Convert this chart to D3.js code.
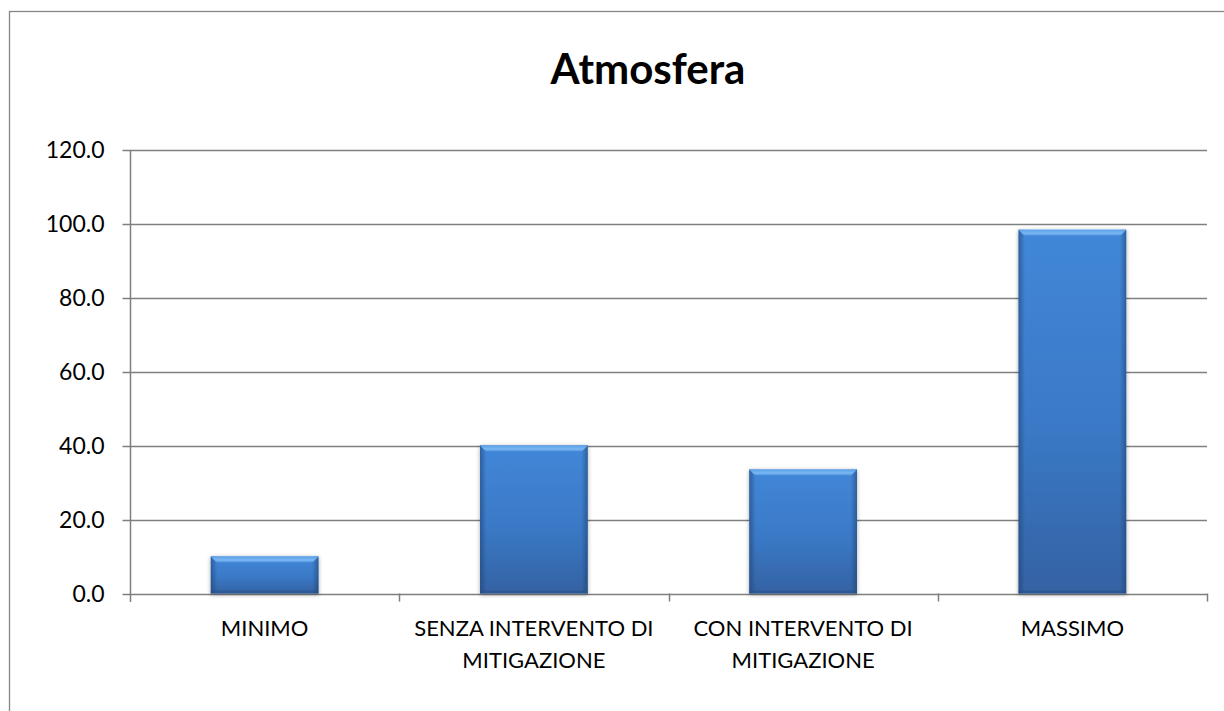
<!DOCTYPE html>
<html>
<head>
<meta charset="utf-8">
<script src="https://cdn.jsdelivr.net/npm/d3@7/dist/d3.min.js"></script>
<style>
  html, body { margin: 0; padding: 0; background: #fff; }
  svg { display: block; }
  text { font-family: Lato, "Open Sans", sans-serif; fill: #000; }
</style>
</head>
<body>
<svg id="chart" width="1224" height="711"></svg>
<script>
// Chart data
const categories = [
  ["MINIMO"],
  ["SENZA INTERVENTO DI", "MITIGAZIONE"],
  ["CON INTERVENTO DI", "MITIGAZIONE"],
  ["MASSIMO"]
];
const values = [10.0, 40.0, 33.5, 98.3];
const yTicks = [0, 20, 40, 60, 80, 100, 120];
const titleText = "Atmosfera";

const svg = d3.select("#chart");
const W = 1224, H = 711;

// Outer chart frame
svg.append("rect")
  .attr("x", 9.5).attr("y", 11.5)
  .attr("width", W + 20).attr("height", H + 20)
  .attr("fill", "#fff").attr("stroke", "#868686").attr("stroke-width", 1.3);

const plot = { left: 130, right: 1207, top: 149.5, bottom: 593.5 };

const x = d3.scaleBand()
  .domain(d3.range(categories.length))
  .range([plot.left, plot.right])
  .paddingInner(0.6).paddingOuter(0.3);

const xBounds = d3.scaleLinear()
  .domain([0, categories.length])
  .range([plot.left, plot.right]);

const y = d3.scaleLinear().domain([0, 120]).range([plot.bottom, plot.top]);

// Definitions: bar gradients and shadow
const defs = svg.append("defs");
const vg = defs.append("linearGradient").attr("id", "barV")
  .attr("x1", 0).attr("y1", 0).attr("x2", 0).attr("y2", 1);
vg.append("stop").attr("offset", "0%").attr("stop-color", "#4287d8");
vg.append("stop").attr("offset", "55%").attr("stop-color", "#3a79c6");
vg.append("stop").attr("offset", "100%").attr("stop-color", "#3462a3");

const hg = defs.append("linearGradient").attr("id", "barH")
  .attr("x1", 0).attr("y1", 0).attr("x2", 1).attr("y2", 0);
hg.append("stop").attr("offset", "0%").attr("stop-color", "#1d3f6e").attr("stop-opacity", 0.55);
hg.append("stop").attr("offset", "6%").attr("stop-color", "#1d3f6e").attr("stop-opacity", 0.0);
hg.append("stop").attr("offset", "94%").attr("stop-color", "#1d3f6e").attr("stop-opacity", 0.0);
hg.append("stop").attr("offset", "100%").attr("stop-color", "#1d3f6e").attr("stop-opacity", 0.55);

const tg = defs.append("linearGradient").attr("id", "barTop")
  .attr("x1", 0).attr("y1", 0).attr("x2", 0).attr("y2", 1);
tg.append("stop").attr("offset", "0%").attr("stop-color", "#5aa0ea");
tg.append("stop").attr("offset", "60%").attr("stop-color", "#7ab8f2");
tg.append("stop").attr("offset", "100%").attr("stop-color", "#4c8fde");

const sh = defs.append("filter").attr("id", "shadow")
  .attr("x", "-20%").attr("y", "-20%").attr("width", "140%").attr("height", "140%");
sh.append("feGaussianBlur").attr("in", "SourceAlpha").attr("stdDeviation", 2).attr("result", "b");
sh.append("feOffset").attr("in", "b").attr("dx", 0).attr("dy", 1).attr("result", "o");
sh.append("feComponentTransfer").attr("in", "o").attr("result", "s")
  .append("feFuncA").attr("type", "linear").attr("slope", 0.35);
const mg = sh.append("feMerge");
mg.append("feMergeNode").attr("in", "s");
mg.append("feMergeNode").attr("in", "SourceGraphic");

// Horizontal gridlines
svg.append("g").selectAll("line").data(yTicks).join("line")
  .attr("x1", plot.left).attr("x2", plot.right)
  .attr("y1", d => Math.round(y(d)) + 0.5).attr("y2", d => Math.round(y(d)) + 0.5)
  .attr("stroke", "#7f7f7f").attr("stroke-width", 1.5);

// Y axis line and ticks
const yAxis = d3.axisLeft(y).tickValues(yTicks).tickSize(8).tickPadding(18)
  .tickFormat(d3.format(".1f"));
const gy = svg.append("g").attr("transform", `translate(${plot.left + 0.5},0.5)`).call(yAxis);
gy.select(".domain").attr("d", `M0,${plot.top}V${plot.bottom + 8}`).attr("stroke", "#7f7f7f").attr("stroke-width", 1.5);
gy.selectAll(".tick line").attr("stroke", "#7f7f7f").attr("stroke-width", 1.5);
gy.selectAll(".tick text").attr("font-size", 23).attr("font-family", "Lato, sans-serif").attr("fill", "#000");

// Category boundary ticks
svg.append("g").selectAll("line").data(d3.range(1, categories.length + 1)).join("line")
  .attr("x1", d => Math.round(xBounds(d)) + 0.5).attr("x2", d => Math.round(xBounds(d)) + 0.5)
  .attr("y1", plot.bottom).attr("y2", plot.bottom + 8)
  .attr("stroke", "#7f7f7f").attr("stroke-width", 1.5);

// Bars
const bars = svg.append("g").selectAll("g").data(values).join("g")
  .attr("filter", "url(#shadow)");
bars.append("rect")
  .attr("x", (d, i) => x(i)).attr("y", d => y(d))
  .attr("width", x.bandwidth()).attr("height", d => y(0) - y(d))
  .attr("fill", "url(#barV)");
bars.append("rect")
  .attr("x", (d, i) => x(i)).attr("y", d => y(d))
  .attr("width", x.bandwidth()).attr("height", d => y(0) - y(d))
  .attr("fill", "url(#barH)");
// Bevelled top edge
const bev = 6;
bars.append("path")
  .attr("d", (d, i) => {
    const x0 = x(i), x1 = x(i) + x.bandwidth(), t = y(d);
    return `M${x0},${t}L${x1},${t}L${x1 - bev},${t + bev}L${x0 + bev},${t + bev}Z`;
  })
  .attr("fill", "url(#barTop)");
// Bottom edge shading
bars.append("rect")
  .attr("x", (d, i) => x(i)).attr("y", d => y(0) - 3)
  .attr("width", x.bandwidth()).attr("height", 3)
  .attr("fill", "#264f86").attr("opacity", 0.5);

// Category labels
const lab = svg.append("g").selectAll("text").data(categories).join("text")
  .attr("x", (d, i) => x(i) + x.bandwidth() / 2)
  .attr("y", 636)
  .attr("text-anchor", "middle")
  .attr("font-size", 22);
lab.selectAll("tspan").data(d => d).join("tspan")
  .attr("x", function () { return d3.select(this.parentNode).attr("x"); })
  .attr("dy", (d, i) => i === 0 ? 0 : 32)
  .text(d => d);

// Title
svg.append("text")
  .attr("x", 648).attr("y", 84)
  .attr("text-anchor", "middle")
  .attr("font-size", 42).attr("font-weight", "bold")
  .text(titleText);
</script>
</body>
</html>
